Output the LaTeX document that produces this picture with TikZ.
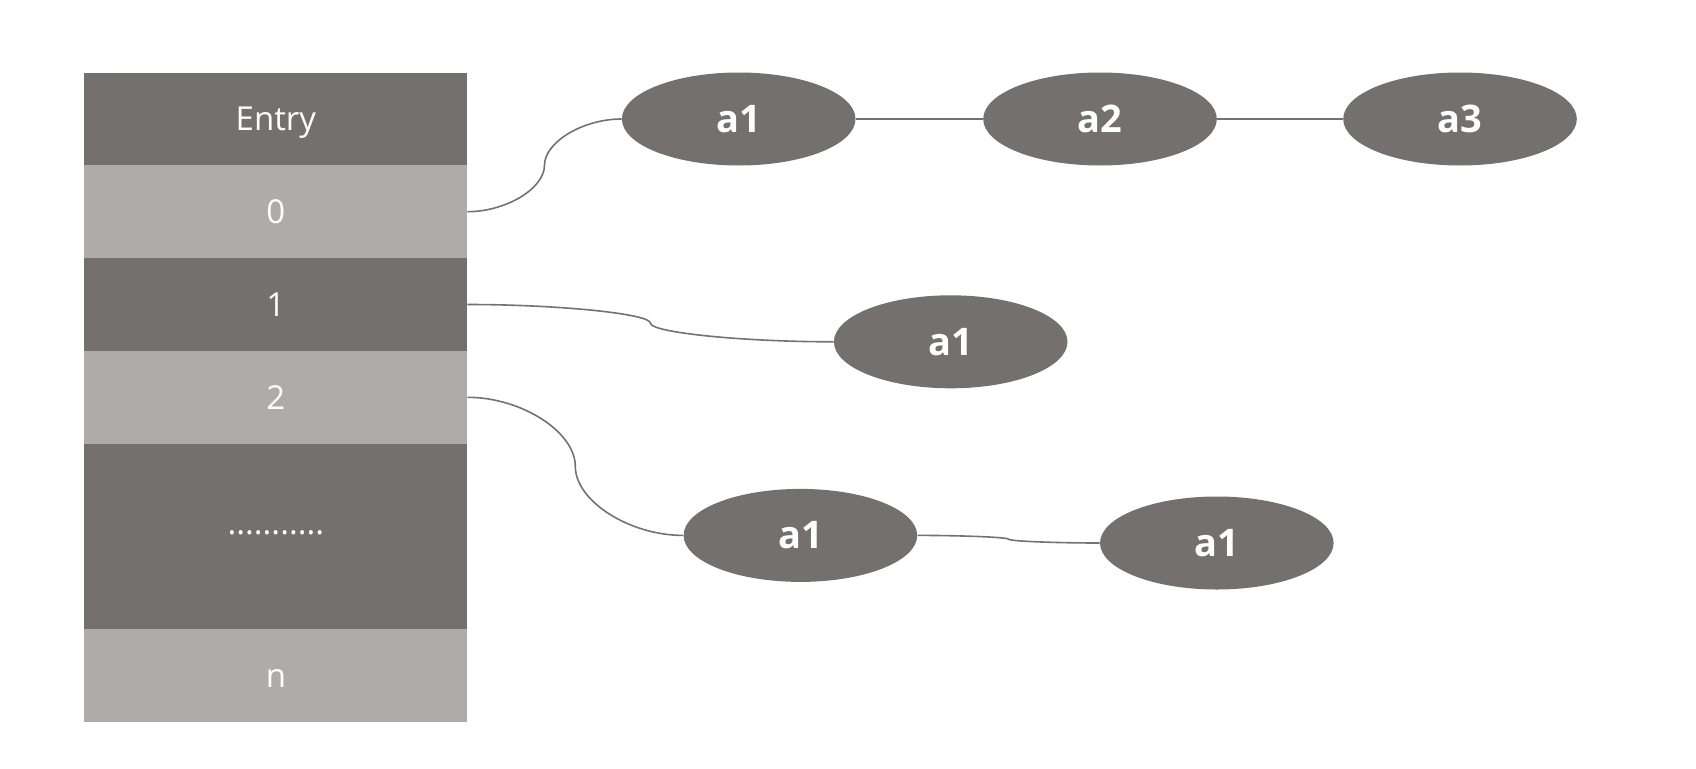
\documentclass[tikz,border=0pt]{standalone}
\usepackage{fontspec}
\setmainfont{Open Sans}
\usetikzlibrary{positioning, shapes.geometric, calc}
\definecolor{cdark}{HTML}{747070}
\definecolor{clight}{HTML}{AFABAB}
\definecolor{cline}{HTML}{767171}
\tikzset{
  row/.style={fill=#1, text=white, minimum width=191.5pt, minimum height=46.4pt, inner sep=0pt, outer sep=0pt, text height=11.8pt, text depth=0pt, font=\fontsize{16.5}{20}\selectfont},
  row/.default=cdark,
  item/.style={ellipse, fill=cdark, text=white, minimum width=116.8pt, minimum height=46.5pt, inner sep=0pt, font=\fontsize{19}{23}\selectfont\bfseries},
  link/.style={draw=cline, line width=0.8pt},
  % horizontal out, vertical in the middle, horizontal in
  elbow/.style={to path={let \p1=(\tikztostart), \p2=(\tikztotarget) in
    .. controls ({0.75*\x1+0.25*\x2},\y1) and ({0.5*\x1+0.5*\x2},{0.75*\y1+0.25*\y2}) .. ({0.5*\x1+0.5*\x2},{0.5*\y1+0.5*\y2})
    .. controls ({0.5*\x1+0.5*\x2},{0.25*\y1+0.75*\y2}) and ({0.25*\x1+0.75*\x2},\y2) .. (\tikztotarget)}},
}
\begin{document}
\begin{tikzpicture}[x=0.5pt, y=0.5pt]
  \useasboundingbox (0,0) rectangle (1696,768);
  % hash table
  \node[row] (entry) at (275.9,649.1) {Entry};
  \node[row=clight, below=0pt of entry] (r0) {0};
  \node[row, below=0pt of r0] (r1) {1};
  \node[row=clight, below=0pt of r1] (r2) {2};
  \node[row, minimum height=92.8pt, text height=0pt, text depth=1.6pt, below=0pt of r2] (rdots) {...........};
  \node[row=clight, below=0pt of rdots] (rn) {n};
  % chains
  \node[item] (e1) at (738.7,649) {a1};
  \node[item] (e2) at (1100,649) {a2};
  \node[item] (e3) at (1460,649) {a3};
  \node[item] (f1) at (950.7,426.2) {a1};
  \node[item] (g1) at (800.4,232.6) {a1};
  \node[item] (g2) at (1216.8,225) {a1};
  \draw[link] (r0.east) to[elbow] (e1.west);
  \draw[link] (e1) -- (e2);
  \draw[link] (e2) -- (e3);
  \draw[link] (r1.east) to[elbow] (f1.west);
  \draw[link] (r2.east) to[elbow] (g1.west);
  \draw[link] (g1.east) to[elbow] (g2.west);
\end{tikzpicture}
\end{document}
